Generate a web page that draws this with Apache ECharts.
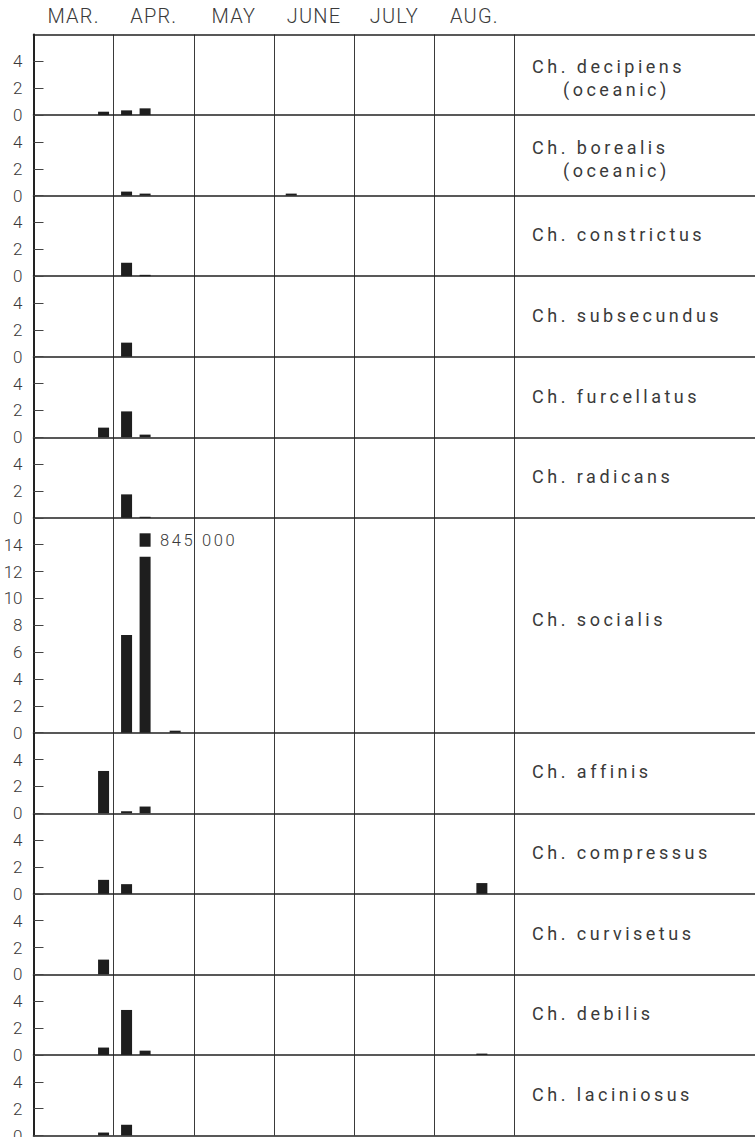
<!DOCTYPE html>
<html><head><meta charset="utf-8">
<script src="https://cdn.jsdelivr.net/npm/echarts@6/dist/echarts.min.js"></script>
<style>
html,body{margin:0;padding:0;background:#fff;}
#c{width:755px;height:1137px;}
text[style*="18px"]{letter-spacing:3.5px;}
text[style*="20px"]{letter-spacing:1.2px;}
text[style*="16.5px"]{letter-spacing:2.6px;}
</style></head><body><div id="c"></div>
<script>
// ---- data ----
const months = ['MAR.', 'APR.', 'MAY', 'JUNE', 'JULY', 'AUG.'];
// sampling times, in months after 1 March
const samplePos = [0.874, 1.161, 1.392, 1.767, 3.215, 5.593];
const species = ['Ch. decipiens', 'Ch. borealis', 'Ch. constrictus', 'Ch. subsecundus', 'Ch. furcellatus',
  'Ch. radicans', 'Ch. socialis', 'Ch. affinis', 'Ch. compressus', 'Ch. curvisetus', 'Ch. debilis', 'Ch. laciniosus'];
const subtitles = ['(oceanic)', '(oceanic)', '', '', '', '', '', '', '', '', '', ''];
const yMax = [6, 6, 6, 6, 6, 6, 16, 6, 6, 6, 6, 6];
const decipiens   = [0.25, 0.35, 0.5, 0, 0, 0];
const borealis    = [0, 0.3, 0.15, 0, 0.15, 0];
const constrictus = [0, 1.0, 0.1, 0, 0, 0];
const subsecundus = [0, 1.05, 0, 0, 0, 0];
const furcellatus = [0.72, 1.93, 0.2, 0, 0, 0];
const radicans    = [0, 1.75, 0.08, 0, 0, 0];
const socialis    = [0, 7.27, 13.1, 0.15, 0, 0];
const affinis     = [3.15, 0.15, 0.5, 0, 0, 0];
const compressus  = [1.04, 0.72, 0, 0, 0, 0.8];
const curvisetus  = [1.1, 0, 0, 0, 0, 0];
const debilis     = [0.55, 3.35, 0.32, 0, 0, 0.1];
const laciniosus  = [0.22, 0.8, 0, 0, 0, 0];
const rows = [decipiens, borealis, constrictus, subsecundus, furcellatus, radicans,
  socialis, affinis, compressus, curvisetus, debilis, laciniosus];
// broken-off top of the socialis bar (off scale), with its true value
const socialisBreak = [13.85, 14.85];
const socialisBreakLabel = '845 000';

// ---- layout / style ----
const TOP = 34.5, BOTTOM = 1135.5, LEFT = 33.5, W = 755;
const FONT = 'Roboto';
const TXT = '#3a3a3a';
const LINE = '#222';
const BAR = '#1e1e1e';
const totalUnits = yMax.reduce((a, b) => a + b, 0);
const ppu = (BOTTOM - TOP) / totalUnits;

const grids = [], xAxes = [], yAxes = [], series = [], graphics = [];
let acc = 0;
species.forEach((name, i) => {
  const top = TOP + acc * ppu;
  const h = yMax[i] * ppu;
  acc += yMax[i];
  grids.push({ left: LEFT, right: 0, top: top, height: h, outerBoundsMode: 'none', containLabel: false });
  xAxes.push({
    type: 'value', gridIndex: i, min: 0, max: 9,
    axisLine: { show: true, lineStyle: { color: LINE, width: 1.6 } },
    axisTick: { show: false }, axisLabel: { show: false }, splitLine: { show: false }
  });
  yAxes.push({
    type: 'value', gridIndex: i, min: 0, max: yMax[i], interval: 2,
    axisLine: { show: true, lineStyle: { color: LINE, width: 2 } },
    axisTick: { show: true, inside: true, length: 10, lineStyle: { color: '#444', width: 1 } },
    axisLabel: { showMaxLabel: false, showMinLabel: true, margin: 11, fontSize: 17, fontFamily: FONT, fontWeight: 300, color: TXT },
    splitLine: { show: false }
  });
  const data = samplePos.map((x, j) => [x, rows[i][j]]).filter(d => d[1] > 0);
  series.push({
    type: 'bar', xAxisIndex: i, yAxisIndex: i, data: data, barWidth: 11,
    itemStyle: { color: BAR }, silent: true
  });
  const center = top + h / 2;
  const f = '400 18px ' + FONT;
  if (subtitles[i]) {
    graphics.push({ type: 'text', x: 532, y: center - 8, style: { text: name, fill: TXT, font: f, textAlign: 'left', textVerticalAlign: 'middle' } });
    graphics.push({ type: 'text', x: 563, y: center + 15, style: { text: subtitles[i], fill: TXT, font: f, textAlign: 'left', textVerticalAlign: 'middle' } });
  } else {
    const off = yMax[i] > 6 ? -6 : -1;
    graphics.push({ type: 'text', x: 532, y: center + off, style: { text: name, fill: TXT, font: f, textAlign: 'left', textVerticalAlign: 'middle' } });
  }
});

// month header axis on the first row
xAxes.push({
  type: 'category', gridIndex: 0, position: 'top', boundaryGap: true,
  data: months.concat(['', '', '']),
  axisLine: { show: true, onZero: false, lineStyle: { color: LINE, width: 1.6 } },
  axisTick: { show: false },
  axisLabel: { interval: 0, margin: 9, fontSize: 20, fontFamily: FONT, fontWeight: 300, color: TXT },
  splitLine: { show: false }
});

// background grid with month dividers
const bgIndex = grids.length;
grids.push({ left: LEFT, top: TOP, height: BOTTOM - TOP, width: 6 * (W - LEFT) / 9, outerBoundsMode: 'none', containLabel: false });
xAxes.push({
  type: 'value', gridIndex: bgIndex, min: 0, max: 6, interval: 1,
  axisLine: { show: false }, axisTick: { show: false }, axisLabel: { show: false },
  splitLine: { show: true, lineStyle: { color: '#3a3a3a', width: 1 } }
});
yAxes.push({ type: 'value', gridIndex: bgIndex, min: 0, max: 1, show: false, splitLine: { show: false } });

// broken top piece of socialis bar
series.push({
  type: 'custom', xAxisIndex: 6, yAxisIndex: 6, silent: true,
  data: [[samplePos[2], socialisBreak[0], socialisBreak[1]]],
  renderItem: function (params, api) {
    const p0 = api.coord([api.value(0), api.value(1)]);
    const p1 = api.coord([api.value(0), api.value(2)]);
    return {
      type: 'group', children: [
        { type: 'rect', shape: { x: p0[0] - 5.5, y: p1[1], width: 11, height: p0[1] - p1[1] }, style: { fill: BAR } },
        { type: 'text', x: p0[0] + 15, y: (p0[1] + p1[1]) / 2, style: { text: socialisBreakLabel, fill: TXT, font: '300 16.5px ' + FONT, textAlign: 'left', textVerticalAlign: 'middle' } }
      ]
    };
  }
});

const chart = echarts.init(document.getElementById('c'), null, { renderer: 'svg' });
chart.setOption({
  animation: false,
  backgroundColor: '#fff',
  grid: grids, xAxis: xAxes, yAxis: yAxes, series: series,
  graphic: graphics
});
</script></body></html>
